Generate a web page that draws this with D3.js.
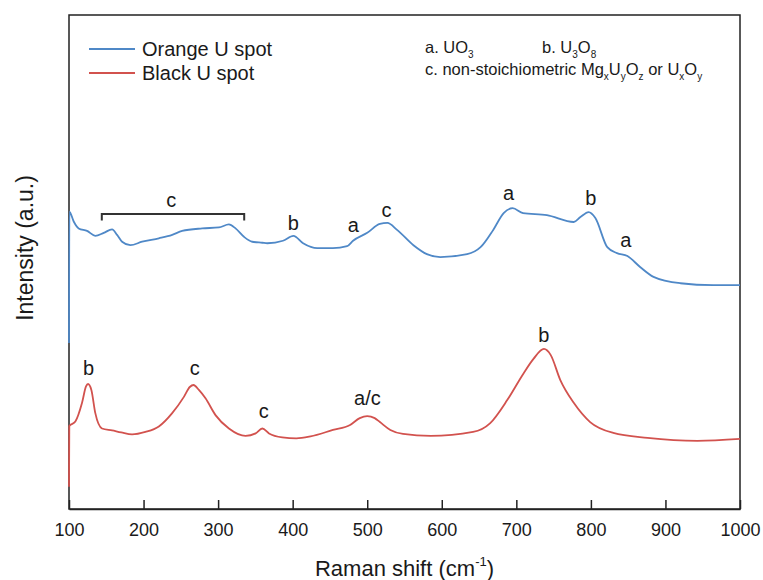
<!DOCTYPE html>
<html><head><meta charset="utf-8">
<script src="https://cdn.jsdelivr.net/npm/d3@7"></script>
<style>
body{margin:0;background:#fff;}
text{font-family:Arial,"Liberation Sans",sans-serif;fill:#1a1a1a;}
</style>
</head><body>
<svg id="chart" width="763" height="580"></svg>
<script>
// ---- data (Raman shift cm-1, intensity a.u.) ----
const orangeSpot = [
  [100,33.6],[100.5,60.2],[106.3,58.2],[113,56.8],[124.2,56.3],[135.3,55.3],[146.6,55.9],
  [157.8,56.6],[164.5,55.5],[171.2,54.1],[182.3,53.4],[198.1,54.1],[220.5,54.8],[238.4,55.5],
  [251.8,56.3],[278.7,56.8],[301.1,57.0],[314.5,57.6],[323.4,56.8],[334.7,55.1],[345.8,54.1],
  [359.3,53.9],[366,53.8],[387,54.3],[401,55.3],[414,53.8],[433,52.8],[454,52.8],[473,53.2],
  [481,54.3],[500,55.9],[517,57.7],[527,57.9],[540,56.5],[562,53.4],[580,51.6],[598,51.0],
  [634,51.6],[652,53.0],[669,56.5],[683,59.9],[695,60.9],[709,59.9],[741,59.5],[777,58.1],
  [786,59.1],[797,60.1],[806,58.9],[822,53.0],[835,51.8],[849,51.2],[866,49.0],[884,47.0],
  [920,45.7],[964,45.3],[1000,45.3]
];
const blackSpot = [
  [100,4.5],[100.4,16.8],[108.5,17.7],[117.5,21.5],[122.8,24.8],[125.5,25.3],[130,24.1],
  [135.3,19.4],[144.3,16.3],[157.8,15.9],[170,15.5],[184.6,15.1],[202.5,15.6],[220.5,16.7],
  [238.4,19.4],[254.1,22.7],[262,24.7],[267,25.1],[274.2,24.1],[283.1,22.4],[296.5,19.0],[314.5,16.3],
  [336.8,14.8],[350.3,15.3],[359.3,16.3],[368.3,15.3],[386.1,14.5],[405,14.3],[424,14.7],
  [454,16.0],[477,17.0],[490,18.4],[500,18.8],[510,18.4],[517,17.6],[531,16.0],[548,15.2],
  [585,14.8],[642,15.6],[665,17.4],[688,22.1],[709,27.3],[723,30.4],[737,32.4],[746,31.2],
  [759,26.1],[777,21.5],[799,17.6],[830,15.4],[876,14.4],[943,13.8],[1000,14.2]
];
const seriesNames = ["Orange U spot","Black U spot"];
const seriesColors = ["#4f88c7","#d2524e"];
const xTicks = [100,200,300,400,500,600,700,800,900,1000];
// peak labels: [text, shift, intensity]
const peakLabels = [
  ["c",237,61.1],["b",400.8,56.5],["a",481.5,56.1],["c",525.8,59.1],["a",689.7,62.6],
  ["b",799.9,61.6],["a",846.9,53.0],
  ["b",126.2,27.2],["c",268.6,27.1],["c",361.3,18.4],["a/c",500.3,21.1],["b",736.7,33.8]
];
// bracket for region c: [from, to, top intensity, tick intensity]
const bracketC = [144,335,59.7,58.4];

// ---- layout ----
const L=69, R=740, T=15, B=509;
const svg = d3.select("#chart");
const x = d3.scaleLinear().domain([100,1000]).range([L,R]);
const y = d3.scaleLinear().domain([0,100]).range([B,T]);

// frame
svg.append("rect").attr("x",L).attr("y",T).attr("width",R-L).attr("height",B-T)
  .attr("fill","none").attr("stroke","#222").attr("stroke-width",1.5);

// x axis
const xAxis = d3.axisBottom(x).tickValues(xTicks).tickFormat(d3.format("d"))
  .tickSizeInner(-9).tickSizeOuter(0).tickPadding(14);
const gx = svg.append("g").attr("transform",`translate(0,${B})`).call(xAxis);
gx.select(".domain").attr("stroke","#222").attr("stroke-width",1.5);
gx.selectAll(".tick line").attr("stroke","#222").attr("stroke-width",1.5);
gx.selectAll(".tick text").attr("font-size",18).attr("fill","#1a1a1a")
  .style("font-family","Arial,'Liberation Sans',sans-serif");

// lines
const line = d3.line().x(d=>x(d[0])).y(d=>y(d[1])).curve(d3.curveMonotoneX);
[orangeSpot, blackSpot].forEach((s,i)=>{
  svg.append("path").datum(s).attr("d",line).attr("fill","none")
    .attr("stroke",seriesColors[i]).attr("stroke-width",1.8).attr("stroke-linejoin","round");
});

// bracket
svg.append("path")
  .attr("d",`M${x(bracketC[0])},${y(bracketC[3])}V${y(bracketC[2])}H${x(bracketC[1])}V${y(bracketC[3])}`)
  .attr("fill","none").attr("stroke","#333").attr("stroke-width",2);

// peak labels
svg.selectAll("text.peak").data(peakLabels).enter().append("text").attr("class","peak")
  .attr("x",d=>x(d[1])).attr("y",d=>y(d[2])).attr("text-anchor","middle")
  .attr("font-size",20).text(d=>d[0]);

// legend
seriesNames.forEach((n,i)=>{
  const yy = 49 + i*24;
  svg.append("line").attr("x1",89).attr("x2",135).attr("y1",yy).attr("y2",yy)
    .attr("stroke",seriesColors[i]).attr("stroke-width",1.8);
  svg.append("text").attr("x",142).attr("y",yy+7).attr("font-size",20).text(n);
});

// compound annotation: parts alternate normal text and {sub}
function chem(xp, yp, parts){
  const t = svg.append("text").attr("x",xp).attr("y",yp).attr("font-size",16.5);
  let shifted = false;
  parts.forEach(p=>{
    if (typeof p === "string") {
      t.append("tspan").attr("dy", shifted ? -5 : 0).text(p);
      shifted = false;
    } else {
      t.append("tspan").attr("font-size",10).attr("dy",5).text(p.sub);
      shifted = true;
    }
  });
}
chem(425,53,["a. UO",{sub:"3"}]);
chem(542,53,["b. U",{sub:"3"},"O",{sub:"8"}]);
chem(425,75,["c. non-stoichiometric Mg",{sub:"x"},"U",{sub:"y"},"O",{sub:"z"}," or U",{sub:"x"},"O",{sub:"y"}]);

// axis titles
const xt = svg.append("text").attr("x",(L+R)/2).attr("y",576).attr("text-anchor","middle").attr("font-size",22);
xt.append("tspan").text("Raman shift (cm");
xt.append("tspan").attr("font-size",13).attr("dy",-10).text("-1");
xt.append("tspan").attr("dy",10).text(")");
svg.append("text").attr("transform","translate(33,248) rotate(-90)").attr("text-anchor","middle")
  .attr("font-size",23).text("Intensity (a.u.)");
</script>
</body></html>
